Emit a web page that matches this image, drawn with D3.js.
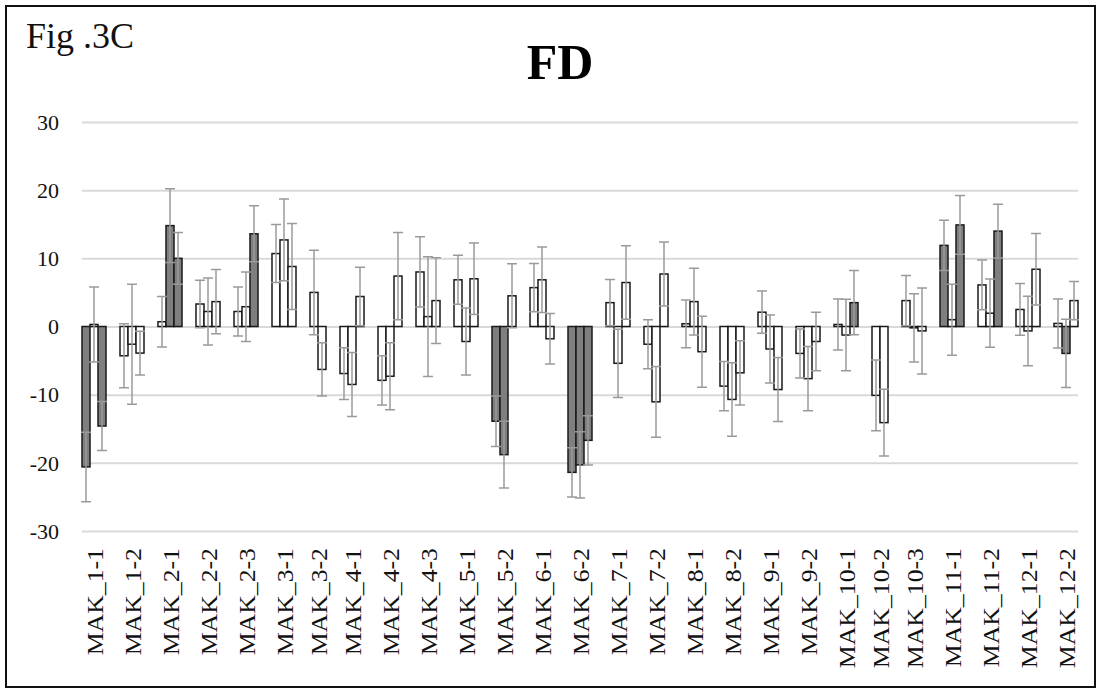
<!DOCTYPE html>
<html>
<head>
<meta charset="utf-8">
<script src="https://cdn.jsdelivr.net/npm/d3@7"></script>
<style>
  html, body { margin: 0; padding: 0; background: #fff; }
  svg { display: block; }
</style>
</head>
<body>
<svg id="chart" width="1101" height="689"></svg>
<script>
// ---------- data ----------
const categories = ["MAK_1-1","MAK_1-2","MAK_2-1","MAK_2-2","MAK_2-3","MAK_3-1","MAK_3-2","MAK_4-1","MAK_4-2","MAK_4-3",
  "MAK_5-1","MAK_5-2","MAK_6-1","MAK_6-2","MAK_7-1","MAK_7-2","MAK_8-1","MAK_8-2","MAK_9-1","MAK_9-2",
  "MAK_10-1","MAK_10-2","MAK_10-3","MAK_11-1","MAK_11-2","MAK_12-1","MAK_12-2"];

const values = [
  [-20.6, 0.3, -14.6], [-4.3, -2.6, -3.9], [0.7, 14.8, 10.0], [3.3, 2.2, 3.65], [2.2, 2.9, 13.6],
  [10.7, 12.7, 8.8], [5.0, -6.3], [-6.9, -8.5, 4.4], [-7.9, -7.3, 7.4], [8.0, 1.45, 3.8],
  [6.85, -2.2, 7.0], [-13.9, -18.8, 4.5], [5.7, 6.85, -1.8], [-21.4, -20.3, -16.7], [3.5, -5.4, 6.45],
  [-2.6, -11.05, 7.7], [0.4, 3.65, -3.7], [-8.75, -10.7, -6.8], [2.1, -3.3, -9.25], [-3.95, -7.65, -2.2],
  [0.3, -1.25, 3.5], [-10.1, -14.1], [3.8, -0.2, -0.65], [11.9, 1.0, 14.9], [6.1, 1.95, 14.0],
  [2.5, -0.65, 8.4], [0.45, -3.95, 3.8]
];

const errors = [
  [5.1, 5.5, 3.6], [4.7, 8.8, 3.2], [3.7, 5.4, 3.8], [3.5, 4.9, 4.7], [3.6, 5.1, 4.1],
  [4.25, 6.0, 6.3], [6.2, 3.9], [3.8, 4.7, 4.3], [3.6, 4.9, 6.4], [5.15, 8.8, 6.3],
  [3.6, 4.9, 5.25], [3.7, 4.9, 4.7], [3.55, 4.8, 3.7], [3.6, 4.85, 3.6], [3.4, 5.0, 5.4],
  [3.6, 5.2, 4.7], [3.5, 4.9, 5.2], [3.6, 5.4, 4.7], [3.1, 5.0, 4.7], [3.6, 4.7, 4.3],
  [3.75, 5.25, 4.7], [5.2, 4.9], [3.7, 5.0, 6.3], [3.7, 5.2, 4.3], [3.65, 5.0, 3.95],
  [3.8, 5.1, 5.25], [3.6, 5.0, 2.8]
];

// 1 = significant (drawn shaded), 0 = not significant
const significant = [
  [1,0,1],[0,0,0],[0,1,1],[0,0,0],[0,0,1],
  [0,0,0],[0,0],[0,0,0],[0,0,0],[0,0,0],
  [0,0,0],[1,1,0],[0,0,0],[1,1,1],[0,0,0],
  [0,0,0],[0,0,0],[0,0,0],[0,0,0],[0,0,0],
  [0,0,1],[0,0],[0,0,0],[1,0,1],[0,0,1],
  [0,0,0],[0,1,0]
];

const yTicks = [-30, -20, -10, 0, 10, 20, 30];
const chartTitle = "FD";
const figLabel = "Fig .3C";

// ---------- layout ----------
const svg = d3.select("#chart");
const plot = { left: 82, right: 1078, top: 122, bottom: 531 };
const gapUnits = 1.75; // gap between groups, in bar widths

const starts = [];
let acc = 0;
values.forEach((vals, i) => {
  starts.push(acc);
  acc += vals.length + (i < values.length - 1 ? gapUnits : 0);
});
const totalUnits = acc;

const x = d3.scaleLinear().domain([0, totalUnits]).range([plot.left, plot.right]);
const y = d3.scaleLinear().domain([-30, 30]).range([plot.bottom, plot.top]);

const serif = "'Liberation Serif', 'Times New Roman', serif";

// border
svg.append("rect")
  .attr("x", 6).attr("y", 6).attr("width", 1089).attr("height", 681)
  .attr("fill", "#fff").attr("stroke", "#111").attr("stroke-width", 2);

// y axis with gridlines
const yAxis = svg.append("g")
  .attr("transform", `translate(${plot.left},0)`)
  .call(d3.axisLeft(y).tickValues(yTicks).tickSize(-(plot.right - plot.left)).tickPadding(23).tickFormat(d => String(d)));
yAxis.select(".domain").remove();
yAxis.selectAll(".tick line").attr("stroke", "#d9d9d9").attr("stroke-width", 2);
yAxis.selectAll(".tick text")
  .attr("font-family", serif)
  .attr("font-size", 22)
  .attr("fill", "#111")
  .attr("dy", "0.33em");

// flatten bars
const bars = [];
values.forEach((vals, i) => {
  vals.forEach((v, j) => {
    bars.push({ g: i, j, v, e: errors[i][j], s: significant[i][j], u: starts[i] + j });
  });
});

// bars
svg.append("g").selectAll("rect")
  .data(bars)
  .join("rect")
  .attr("x", d => x(d.u))
  .attr("width", d => x(d.u + 1) - x(d.u))
  .attr("y", d => y(Math.max(0, d.v)))
  .attr("height", d => Math.abs(y(d.v) - y(0)))
  .attr("fill", d => d.s ? "#7f7f7f" : "#ffffff")
  .attr("stroke", "#1a1a1a")
  .attr("stroke-width", 1.5);

// error bars
const eb = svg.append("g").attr("stroke", "#9a9a9a").attr("stroke-width", 1.5).attr("fill", "none");
const capHalf = 5;
eb.selectAll("path")
  .data(bars)
  .join("path")
  .attr("d", d => {
    const cx = (x(d.u) + x(d.u + 1)) / 2;
    const y1 = y(d.v + d.e), y2 = y(d.v - d.e);
    return `M${cx},${y1}V${y2}M${cx - capHalf},${y1}H${cx + capHalf}M${cx - capHalf},${y2}H${cx + capHalf}`;
  });

// x labels
svg.append("g").selectAll("text")
  .data(categories)
  .join("text")
  .attr("transform", (d, i) => {
    const cx = (x(starts[i]) + x(starts[i] + values[i].length)) / 2 + 1;
    return `translate(${cx},548) rotate(-90) scale(1.12,1)`;
  })
  .attr("text-anchor", "end")
  .attr("dy", "0.35em")
  .attr("font-family", serif)
  .attr("font-size", 23)
  .attr("fill", "#111")
  .text(d => d);

// title
svg.append("text")
  .attr("x", 560).attr("y", 79)
  .attr("text-anchor", "middle")
  .attr("font-family", serif)
  .attr("font-weight", "bold")
  .attr("font-size", 50)
  .attr("fill", "#000")
  .text(chartTitle);

svg.append("text")
  .attr("x", 26).attr("y", 48)
  .attr("font-family", serif)
  .attr("font-size", 36)
  .attr("fill", "#111")
  .text(figLabel);
</script>
</body>
</html>
